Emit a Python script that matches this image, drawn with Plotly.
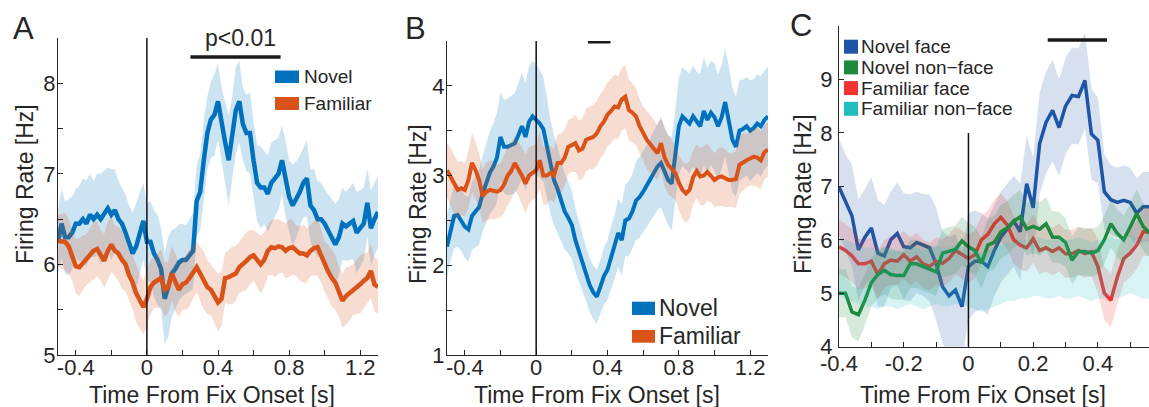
import plotly.graph_objects as go

# ---------------- DATA ----------------
time_ab = [round(-0.5 + 0.02 * i, 2) for i in range(91)]   # -0.5 .. 1.3 s
time_c = [round(-0.4 + 0.02 * i, 2) for i in range(49)]    # -0.4 .. 0.56 s

a_novel = [6.25, 6.45, 6.3, 6.3, 6.35, 6.45, 6.45, 6.5, 6.45, 6.55, 6.5, 6.55, 6.5, 6.55, 6.62,
           6.55, 6.6, 6.5, 6.45, 6.35, 6.25, 6.12, 6.2, 6.35, 6.48, 6.25, 6.25, 6.12, 6.05, 5.95,
           5.62, 5.75, 5.9, 5.95, 6.02, 6.05, 6.05, 6.1, 6.15, 6.7, 6.8, 7.15, 7.45, 7.6, 7.65,
           7.8, 7.55, 7.35, 7.15, 7.4, 7.7, 7.8, 7.55, 7.45, 7.45, 7.15, 6.9, 6.85, 6.85, 6.78,
           6.9, 6.95, 7.0, 7.15, 6.95, 6.75, 6.65, 6.72, 6.8, 6.9, 6.95, 6.65, 6.6, 6.5, 6.5,
           6.45, 6.38, 6.3, 6.22, 6.3, 6.45, 6.42, 6.45, 6.48, 6.35, 6.4, 6.45, 6.68, 6.4, 6.5, 6.58]
a_novel_sem = [0.35, 0.38, 0.4, 0.42, 0.4, 0.38, 0.42, 0.45, 0.48, 0.45, 0.42, 0.45, 0.5, 0.48, 0.45,
               0.5, 0.45, 0.42, 0.4, 0.42, 0.4, 0.45, 0.48, 0.45, 0.42, 0.42, 0.45, 0.48, 0.5, 0.45,
               0.5, 0.55, 0.48, 0.45, 0.42, 0.4, 0.38, 0.4, 0.42, 0.4, 0.42, 0.45, 0.4, 0.42, 0.45,
               0.42, 0.4, 0.45, 0.5, 0.45, 0.48, 0.45, 0.4, 0.42, 0.45, 0.42, 0.42, 0.45, 0.4, 0.42,
               0.45, 0.42, 0.4, 0.38, 0.42, 0.4, 0.45, 0.42, 0.4, 0.38, 0.42, 0.4, 0.45, 0.42, 0.4,
               0.38, 0.4, 0.42, 0.45, 0.42, 0.4, 0.38, 0.4, 0.42, 0.45, 0.42, 0.4, 0.38, 0.42, 0.4, 0.4]
a_familiar = [6.26, 6.26, 6.25, 6.2, 6.1, 5.98, 5.97, 6.02, 6.05, 6.1, 6.15, 6.17, 6.1, 6.04, 6.15,
              6.22, 6.15, 6.12, 6.05, 6.0, 5.88, 5.8, 5.68, 5.6, 5.53, 5.62, 5.75, 5.8, 5.82, 5.85,
              5.72, 5.75, 5.9, 5.8, 5.72, 5.78, 5.8, 5.85, 5.92, 5.97, 5.9, 5.82, 5.75, 5.72, 5.65,
              5.58, 5.62, 5.85, 5.86, 5.88, 5.9, 5.97, 6.0, 6.04, 6.08, 6.1, 6.05, 6.0, 6.05, 6.15,
              6.19, 6.18, 6.2, 6.19, 6.15, 6.18, 6.19, 6.15, 6.12, 6.12, 6.1, 6.15, 6.18, 6.19, 6.1,
              5.98, 5.92, 5.85, 5.8, 5.7, 5.6, 5.65, 5.68, 5.72, 5.75, 5.78, 5.82, 5.85, 5.93, 5.78, 5.75]
a_familiar_sem = [0.28, 0.3, 0.32, 0.3, 0.28, 0.3, 0.32, 0.3, 0.28, 0.3, 0.32, 0.3, 0.28, 0.3, 0.32,
                  0.3, 0.28, 0.3, 0.32, 0.3, 0.28, 0.3, 0.32, 0.3, 0.3, 0.32, 0.3, 0.28, 0.3, 0.32,
                  0.3, 0.28, 0.3, 0.32, 0.3, 0.28, 0.3, 0.32, 0.3, 0.28, 0.3, 0.32, 0.3, 0.28, 0.3,
                  0.32, 0.3, 0.28, 0.3, 0.32, 0.3, 0.28, 0.3, 0.32, 0.3, 0.28, 0.3, 0.32, 0.3, 0.28,
                  0.3, 0.32, 0.3, 0.28, 0.3, 0.32, 0.3, 0.28, 0.3, 0.32, 0.3, 0.28, 0.3, 0.32, 0.3,
                  0.28, 0.3, 0.32, 0.3, 0.28, 0.3, 0.32, 0.3, 0.28, 0.3, 0.32, 0.3, 0.28, 0.3, 0.3, 0.3]

b_novel = [2.21, 2.4, 2.55, 2.56, 2.5, 2.43, 2.4, 2.55, 2.6, 2.65, 2.8, 2.92, 3.03, 3.1, 3.2,
           3.43, 3.32, 3.32, 3.34, 3.36, 3.45, 3.55, 3.43, 3.6, 3.66, 3.62, 3.58, 3.52, 3.32, 3.1,
           2.95, 2.85, 2.72, 2.6, 2.53, 2.45, 2.28, 2.15, 2.02, 1.9, 1.78, 1.7, 1.65, 1.76, 1.88,
           1.95, 2.08, 2.2, 2.36, 2.28, 2.5, 2.52, 2.6, 2.72, 2.76, 2.82, 2.88, 2.96, 3.03, 3.1,
           3.14, 3.05, 2.95, 2.91, 3.2, 3.55, 3.66, 3.62, 3.58, 3.66, 3.6, 3.55, 3.72, 3.62, 3.7,
           3.65, 3.55, 3.65, 3.82, 3.62, 3.4, 3.32, 3.5, 3.52, 3.55, 3.5, 3.53, 3.58, 3.55, 3.62, 3.66]
b_novel_sem = [0.35, 0.35, 0.36, 0.35, 0.34, 0.35, 0.36, 0.38, 0.4, 0.42, 0.42, 0.44, 0.46, 0.48, 0.5,
               0.5, 0.52, 0.54, 0.55, 0.56, 0.58, 0.6, 0.6, 0.62, 0.62, 0.62, 0.6, 0.58, 0.56, 0.52,
               0.5, 0.48, 0.45, 0.42, 0.4, 0.38, 0.35, 0.33, 0.32, 0.3, 0.3, 0.3, 0.3, 0.3, 0.32,
               0.33, 0.35, 0.36, 0.38, 0.4, 0.4, 0.42, 0.42, 0.44, 0.45, 0.45, 0.46, 0.46, 0.48, 0.48,
               0.5, 0.5, 0.5, 0.52, 0.52, 0.54, 0.55, 0.55, 0.56, 0.56, 0.56, 0.58, 0.6, 0.58, 0.58,
               0.6, 0.58, 0.58, 0.6, 0.6, 0.58, 0.56, 0.56, 0.55, 0.55, 0.56, 0.55, 0.55, 0.56, 0.55, 0.55]
b_familiar = [3.06, 2.99, 2.9, 2.84, 2.86, 2.84, 2.95, 3.14, 3.06, 2.95, 2.77, 2.82, 2.84, 2.83, 2.82,
              2.84, 2.9, 3.0, 3.05, 3.14, 3.08, 3.0, 2.91, 3.0, 3.03, 3.06, 3.17, 3.0, 3.0, 3.03,
              3.0, 3.14, 3.14, 3.2, 3.32, 3.34, 3.36, 3.28, 3.3, 3.4, 3.42, 3.43, 3.47, 3.55, 3.6,
              3.68, 3.72, 3.77, 3.76, 3.85, 3.88, 3.73, 3.7, 3.66, 3.55, 3.47, 3.4, 3.35, 3.3, 3.25,
              3.36, 3.2, 3.12, 3.08, 3.03, 2.92, 2.84, 2.8, 2.84, 2.98, 3.05, 2.99, 3.0, 3.04, 3.0,
              2.95, 2.98, 2.99, 2.97, 2.95, 2.95, 2.96, 3.12, 3.15, 3.17, 3.19, 3.21, 3.2, 3.17, 3.26, 3.29]
b_familiar_sem = [0.3, 0.32, 0.33, 0.32, 0.3, 0.3, 0.32, 0.33, 0.32, 0.3, 0.3, 0.32, 0.33, 0.32, 0.3,
                  0.3, 0.32, 0.33, 0.32, 0.3, 0.3, 0.32, 0.33, 0.32, 0.3, 0.3, 0.32, 0.33, 0.32, 0.3,
                  0.3, 0.32, 0.33, 0.32, 0.3, 0.3, 0.32, 0.33, 0.34, 0.35, 0.35, 0.36, 0.36, 0.36, 0.36,
                  0.36, 0.36, 0.36, 0.35, 0.35, 0.35, 0.34, 0.33, 0.32, 0.3, 0.3, 0.32, 0.33, 0.32, 0.3,
                  0.3, 0.32, 0.33, 0.32, 0.3, 0.3, 0.32, 0.33, 0.32, 0.3, 0.3, 0.32, 0.33, 0.32, 0.3,
                  0.3, 0.32, 0.33, 0.32, 0.3, 0.3, 0.32, 0.33, 0.32, 0.3, 0.3, 0.32, 0.33, 0.32, 0.3, 0.3]

c_novel_face = [6.99, 6.7, 6.45, 5.81, 6.05, 6.22, 5.75, 5.7, 6.0, 6.12, 5.87, 5.85, 5.95, 5.9, 5.85,
                5.55, 5.12, 4.95, 5.06, 4.75, 5.5, 5.6, 5.6, 5.5, 5.8, 6.05, 6.2, 6.35, 6.15, 7.05,
                6.6, 7.8, 8.2, 8.42, 8.1, 8.5, 8.7, 8.68, 8.98, 7.98, 7.86, 6.9, 6.75, 6.7, 6.74,
                6.7, 6.5, 6.62, 6.62]
c_novel_face_sem = [0.9, 0.9, 0.95, 0.95, 0.9, 0.95, 1.0, 0.95, 0.9, 0.95, 1.0, 1.0, 0.95, 0.95, 1.0,
                    1.05, 1.05, 1.1, 1.05, 1.0, 1.0, 0.95, 0.9, 0.9, 0.85, 0.85, 0.85, 0.85, 0.9, 0.9,
                    0.95, 0.95, 0.95, 0.95, 0.9, 0.9, 0.9, 0.9, 0.9, 0.85, 0.8, 0.7, 0.65, 0.65, 0.65,
                    0.65, 0.65, 0.65, 0.65]
c_novel_nonface = [5.0, 5.0, 4.65, 4.6, 4.87, 5.2, 5.35, 5.43, 5.35, 5.33, 5.33, 5.55, 5.55, 5.5, 5.45,
                   5.4, 5.75, 5.78, 5.82, 5.98, 5.87, 5.8, 5.56, 5.9, 5.95, 6.15, 6.22, 6.35, 6.43, 6.2,
                   6.25, 6.2, 6.3, 6.05, 6.05, 5.95, 5.62, 5.78, 5.78, 5.75, 5.8, 6.0, 6.3, 6.12, 6.0,
                   6.24, 6.49, 6.25, 6.12]
c_novel_nonface_sem = [0.45, 0.45, 0.48, 0.5, 0.48, 0.45, 0.45, 0.45, 0.45, 0.45, 0.45, 0.45, 0.45, 0.45, 0.45,
                       0.45, 0.45, 0.45, 0.45, 0.45, 0.45, 0.45, 0.48, 0.5, 0.5, 0.5, 0.5, 0.5, 0.5, 0.5,
                       0.5, 0.5, 0.5, 0.48, 0.48, 0.45, 0.45, 0.45, 0.45, 0.45, 0.45, 0.45, 0.45, 0.45, 0.45,
                       0.45, 0.45, 0.45, 0.45]
c_familiar_face = [5.87, 5.8, 5.7, 5.55, 5.55, 5.6, 5.35, 5.55, 5.62, 5.6, 5.72, 5.6, 5.68, 5.55, 5.5,
                   5.6, 5.56, 5.65, 5.8, 5.72, 5.65, 5.72, 6.0, 6.1, 6.3, 6.42, 6.28, 6.0, 5.9, 5.85,
                   6.02, 5.8, 5.85, 5.78, 5.85, 5.74, 5.74, 5.8, 5.74, 5.78, 5.5, 5.0, 4.87, 5.3, 5.65,
                   5.75, 5.9, 6.15, 6.15]
c_familiar_face_sem = [0.5, 0.5, 0.5, 0.48, 0.45, 0.45, 0.45, 0.45, 0.45, 0.45, 0.45, 0.45, 0.45, 0.45, 0.45,
                       0.45, 0.45, 0.45, 0.45, 0.45, 0.45, 0.45, 0.45, 0.45, 0.45, 0.45, 0.45, 0.45, 0.45, 0.45,
                       0.45, 0.45, 0.45, 0.45, 0.45, 0.45, 0.45, 0.45, 0.45, 0.45, 0.5, 0.5, 0.5, 0.5, 0.45,
                       0.45, 0.45, 0.45, 0.45]
c_familiar_nonface = [5.5, 5.45, 5.4, 5.35, 5.3, 5.3, 5.25, 5.3, 5.3, 5.25, 5.3, 5.35, 5.3, 5.25, 5.3,
                      5.35, 5.3, 5.3, 5.35, 5.35, 5.3, 5.25, 5.2, 5.25, 5.3, 5.35, 5.4, 5.4, 5.45, 5.45,
                      5.5, 5.5, 5.45, 5.45, 5.5, 5.45, 5.45, 5.5, 5.45, 5.4, 5.45, 5.45, 5.5, 5.45, 5.5,
                      5.55, 5.5, 5.45, 5.45]
c_familiar_nonface_sem = [0.55] * 49

sig_a = [0.245, 0.752]
sig_b = [0.29, 0.417]
sig_c = [0.245, 0.428]

for arr in [a_novel, a_novel_sem, a_familiar, a_familiar_sem, b_novel, b_novel_sem, b_familiar, b_familiar_sem]:
    assert len(arr) == len(time_ab), len(arr)
for arr in [c_novel_face, c_novel_face_sem, c_novel_nonface, c_novel_nonface_sem,
            c_familiar_face, c_familiar_face_sem, c_familiar_nonface, c_familiar_nonface_sem]:
    assert len(arr) == len(time_c), len(arr)

# ---------------- STYLE ----------------
W, H = 1149, 407
FONT = "Liberation Sans, Arial, sans-serif"
TXT = "#262626"
BLUE, ORANGE = "#0072BD", "#D95319"
C_BLUE, C_GREEN, C_RED, C_TEAL = "#1F55A5", "#1E8A3E", "#F03232", "#22BDBD"


def rgba(hexc, a):
    h = hexc.lstrip("#")
    return "rgba(%d,%d,%d,%s)" % (int(h[0:2], 16), int(h[2:4], 16), int(h[4:6], 16), a)


def px(x):
    return x / W


def py(y):
    return 1 - y / H


fig = go.Figure()


def add_series(t, m, s, color, xa, ya, width, band_alpha=0.2, show_line=True):
    upper = [a + b for a, b in zip(m, s)]
    lower = [a - b for a, b in zip(m, s)]
    fig.add_trace(go.Scatter(x=list(t) + list(t)[::-1], y=upper + lower[::-1], fill="toself",
                             fillcolor=rgba(color, band_alpha), line=dict(width=0),
                             mode="lines", xaxis=xa, yaxis=ya, hoverinfo="skip", showlegend=False))
    if show_line:
        fig.add_trace(go.Scatter(x=t, y=m, mode="lines", line=dict(color=color, width=width),
                                 xaxis=xa, yaxis=ya, showlegend=False))


add_series(time_ab, a_novel, a_novel_sem, BLUE, "x", "y", 4.5)
add_series(time_ab, a_familiar, a_familiar_sem, ORANGE, "x", "y", 4.5)
add_series(time_ab, b_novel, b_novel_sem, BLUE, "x2", "y2", 4)
add_series(time_ab, b_familiar, b_familiar_sem, ORANGE, "x2", "y2", 4)
add_series(time_c, c_novel_face, c_novel_face_sem, C_BLUE, "x3", "y3", 3.5, 0.18)
add_series(time_c, c_familiar_face, c_familiar_face_sem, C_RED, "x3", "y3", 3.5, 0.18)
add_series(time_c, c_novel_nonface, c_novel_nonface_sem, C_GREEN, "x3", "y3", 3.5, 0.18)
add_series(time_c, c_familiar_nonface, c_familiar_nonface_sem, C_TEAL, "x3", "y3", 3.5, 0.18, show_line=False)

# significance bars
for sig, xa, ya, yv, w in [(sig_a, "x", "y", 8.29, 3.5), (sig_b, "x2", "y2", 4.5, 5), (sig_c, "x3", "y3", 9.74, 3.5)]:
    fig.add_trace(go.Scatter(x=sig, y=[yv, yv], mode="lines", line=dict(color="#1a1a1a", width=w),
                             xaxis=xa, yaxis=ya, cliponaxis=False, showlegend=False))

tick_font = dict(family=FONT, size=22, color=TXT)
axis_common = dict(showline=True, linecolor=TXT, linewidth=1, ticks="inside", ticklen=5,
                   tickcolor=TXT, showgrid=False, zeroline=False, tickfont=tick_font,
                   automargin=False)

ab_ticks = [-0.4, -0.2, 0, 0.2, 0.4, 0.6, 0.8, 1.0, 1.2]
ab_text = ["-0.4", "", "0", "", "0.4", "", "0.8", "", "1.2"]
c_ticks = [-0.4, -0.3, -0.2, -0.1, 0, 0.1, 0.2, 0.3, 0.4, 0.5]
c_text = ["-0.4", "", "-0.2", "", "0", "", "0.2", "", "0.4", ""]

fig.update_layout(
    width=W, height=H, margin=dict(l=0, r=0, t=0, b=0, autoexpand=False),
    paper_bgcolor="white", plot_bgcolor="white", showlegend=False,
    xaxis=dict(domain=[px(58), px(378)], range=[-0.5, 1.3], anchor="y", ticklabelstandoff=-7,
               tickvals=ab_ticks, ticktext=ab_text, **axis_common),
    yaxis=dict(domain=[py(355), py(38)], range=[5, 8.5], anchor="x", ticklabelstandoff=-3,
               tickvals=[5, 5.5, 6, 6.5, 7, 7.5, 8], ticktext=["5", "", "6", "", "7", "", "8"], **axis_common),
    xaxis2=dict(domain=[px(447), px(768)], range=[-0.5, 1.3], anchor="y2", ticklabelstandoff=-7,
                tickvals=ab_ticks, ticktext=ab_text, **axis_common),
    yaxis2=dict(domain=[py(355), py(41)], range=[1, 4.5], anchor="x2", ticklabelstandoff=-3,
                tickvals=[1, 1.5, 2, 2.5, 3, 3.5, 4], ticktext=["1", "", "2", "", "3", "", "4"], **axis_common),
    xaxis3=dict(domain=[px(839), 1.0], range=[-0.4, 0.558], anchor="y3", ticklabelstandoff=-3,
                tickvals=c_ticks, ticktext=c_text, **axis_common),
    yaxis3=dict(domain=[py(346.7), py(26)], range=[4, 10], anchor="x3", ticklabelstandoff=1,
                tickvals=[4, 5, 6, 7, 8, 9], ticktext=["4", "5", "6", "7", "8", "9"], **axis_common),
)

# zero lines
fig.add_shape(type="line", xref="x", yref="y domain", x0=0, x1=0, y0=0, y1=1, line=dict(color="#111", width=1.5))
fig.add_shape(type="line", xref="x2", yref="y2 domain", x0=0, x1=0, y0=0, y1=1, line=dict(color="#111", width=1.5))
fig.add_shape(type="line", xref="x3", yref="y3", x0=0, x1=0, y0=4, y1=8, line=dict(color="#111", width=1.5))

ann = []


def text(x, y, s, size, xanchor="center", yanchor="middle", angle=0, xref="paper"):
    ann.append(dict(x=x, y=y, xref=xref, yref="paper", text=s, showarrow=False,
                    xanchor=xanchor, yanchor=yanchor, textangle=angle,
                    font=dict(family=FONT, size=size, color=TXT)))


# panel letters
text(px(23.5), py(29), "A", 31)
text(px(415), py(29), "B", 31)
text(px(801), py(25), "C", 31)
# axis titles
text(px(212), py(395), "Time From Fix Onset [s]", 23)
text(px(597), py(395), "Time From Fix Onset [s]", 23)
text(px(983), py(395), "Time From Fix Onset [s]", 23)
text(px(25), py(184), "Firing Rate [Hz]", 23, angle=-90)
text(px(418), py(204), "Firing Rate [Hz]", 23, angle=-90)
text(px(803), py(194), "Firing Rate [Hz]", 23, angle=-90)
# p-value label above the significance bar
text(0.525, py(53), "p<0.01", 23, yanchor="bottom", xref="x")


def legend_entry(x0, x1, y0, y1, color, label, tx, size):
    fig.add_shape(type="rect", xref="paper", yref="paper", x0=px(x0), x1=px(x1), y0=py(y1), y1=py(y0),
                  fillcolor=color, line=dict(width=0))
    text(px(tx), py((y0 + y1) / 2), label, size, xanchor="left")


legend_entry(275, 299, 70.5, 83, BLUE, "Novel", 302, 19)
legend_entry(275, 299, 97, 110, ORANGE, "Familiar", 302, 19)
legend_entry(632, 655, 301.7, 315, BLUE, "Novel", 657, 23)
legend_entry(632, 655, 330, 342.7, ORANGE, "Familiar", 657, 23)
for i, (col, lab) in enumerate([(C_BLUE, "Novel face"), (C_GREEN, "Novel non\u2212face"),
                                (C_RED, "Familiar face"), (C_TEAL, "Familiar non\u2212face")]):
    cy = 46.7 + 20.7 * i
    legend_entry(844, 858, cy - 7, cy + 7, col, lab, 858.5, 19)

fig.update_layout(annotations=ann)
fig.write_html("out.html")
